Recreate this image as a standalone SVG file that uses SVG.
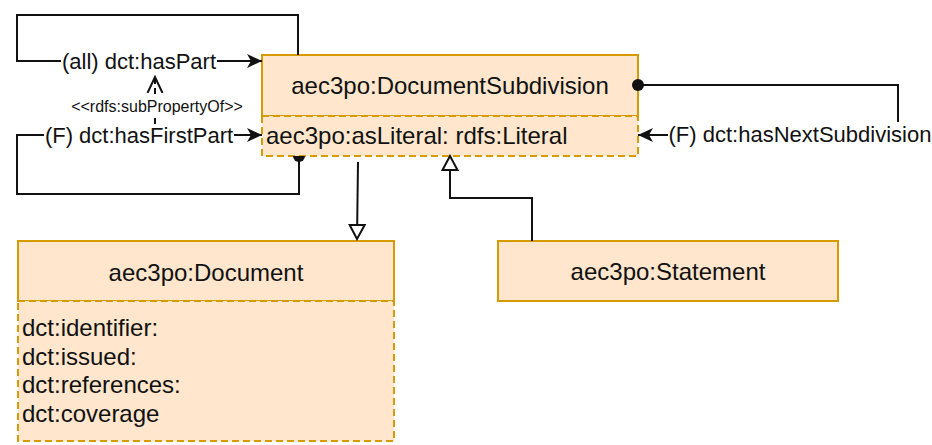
<svg xmlns="http://www.w3.org/2000/svg" width="932" height="445" viewBox="0 0 932 445">
<style>
.box{fill:#ffe6cc;stroke:#d79b00;stroke-width:2}
.attr{fill:#ffe6cc;stroke:#d79b00;stroke-width:2;stroke-dasharray:7 4}
.t{font-family:"Liberation Sans",Arial,sans-serif;font-size:24px;fill:#111}
.lbl{font-family:"Liberation Sans",Arial,sans-serif;font-size:22px;fill:#111}
.small{font-family:"Liberation Sans",Arial,sans-serif;font-size:16px;fill:#111}
.e{fill:none;stroke:#111;stroke-width:2}
.bg{fill:#fff}
</style>
<defs>
<marker id="arrow" viewBox="-16 -9 17 18" refX="0" refY="0" markerWidth="17" markerHeight="18" markerUnits="userSpaceOnUse" orient="auto">
<path d="M0,0 L-15,-7 L-11,0 L-15,7 Z" fill="#111"/>
</marker>
<marker id="tri" viewBox="-16 -10 18 20" refX="0" refY="0" markerWidth="18" markerHeight="20" markerUnits="userSpaceOnUse" orient="auto">
<path d="M0,0 L-14,-7.5 L-14,7.5 Z" fill="#fff" stroke="#111" stroke-width="2"/>
</marker>
<marker id="vee" viewBox="-16 -10 18 20" refX="0" refY="0" markerWidth="18" markerHeight="20" markerUnits="userSpaceOnUse" orient="auto">
<path d="M-16,-7.5 L0,0 L-16,7.5" fill="none" stroke="#111" stroke-width="2"/>
</marker>
</defs>
<rect width="932" height="445" fill="#fff"/>

<g id="node-documentsubdivision">
<rect class="box" x="262" y="55" width="376" height="61"/>
<text class="t" x="450" y="94" text-anchor="middle">aec3po:DocumentSubdivision</text>
<rect class="attr" x="262" y="116" width="376" height="40"/>
<text class="t" x="266" y="144">aec3po:asLiteral: rdfs:Literal</text>
</g>

<g id="node-document">
<rect class="box" x="18" y="241" width="376" height="60"/>
<text class="t" x="206" y="281" text-anchor="middle">aec3po:Document</text>
<rect class="attr" x="18" y="301" width="376" height="140"/>
<text class="t" x="22" y="336">dct:identifier:</text>
<text class="t" x="22" y="364.5">dct:issued:</text>
<text class="t" x="22" y="393">dct:references:</text>
<text class="t" x="22" y="421.5">dct:coverage</text>
</g>

<g id="node-statement">
<rect class="box" x="498" y="241" width="340" height="60"/>
<text class="t" x="668" y="280" text-anchor="middle">aec3po:Statement</text>
</g>

<g id="connectors">
<!-- (all) dct:hasPart -->
<path class="e" d="M298,55 V15 H17 V61 H262" marker-end="url(#arrow)"/>
<rect class="bg" x="61" y="49" width="156" height="25"/>
<text class="lbl" x="139" y="68.5" text-anchor="middle">(all) dct:hasPart</text>

<!-- (F) dct:hasFirstPart -->
<path class="e" d="M299,156 V194 H17 V135 H262" marker-end="url(#arrow)"/>
<path d="M293,156 A6,6 0 0 0 305,156 Z" fill="#111"/>
<rect class="bg" x="44" y="123" width="190" height="25"/>
<text class="lbl" x="139" y="142.5" text-anchor="middle">(F) dct:hasFirstPart</text>

<!-- subPropertyOf -->
<path class="e" d="M155,124 V77" stroke-dasharray="6 4" marker-end="url(#vee)"/>
<rect class="bg" x="71" y="98" width="172" height="16"/>
<text class="small" x="157" y="112" text-anchor="middle">&lt;&lt;rdfs:subPropertyOf&gt;&gt;</text>

<!-- (F) dct:hasNextSubdivision -->
<path class="e" d="M638,85 H898 V135 H638" marker-end="url(#arrow)"/>
<circle cx="638" cy="85" r="6" fill="#111"/>
<rect class="bg" x="668" y="122" width="264" height="25"/>
<text class="lbl" x="800" y="142" text-anchor="middle">(F) dct:hasNextSubdivision</text>

<!-- generalizations -->
<path class="e" d="M358,162 L357,239" marker-end="url(#tri)"/>
<path class="e" d="M532,241 V198 H450 V156" marker-end="url(#tri)"/>
</g>
</svg>
